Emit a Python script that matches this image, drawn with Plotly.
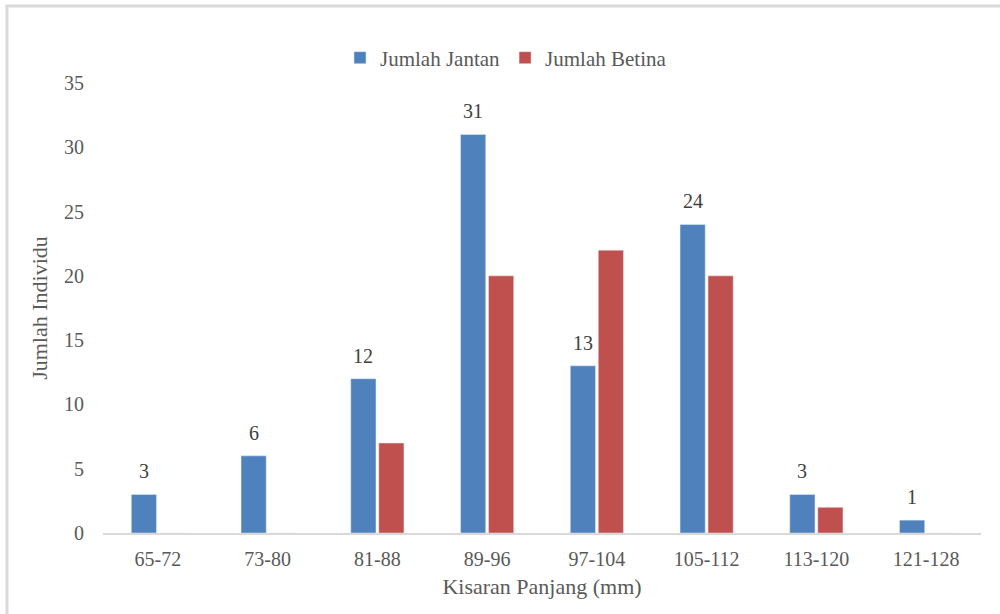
import plotly.graph_objects as go

categories = ["65-72", "73-80", "81-88", "89-96", "97-104", "105-112", "113-120", "121-128"]
jantan = [3, 6, 12, 31, 13, 24, 3, 1]
betina = [0, 0, 7, 20, 22, 20, 2, 0]

FONT = "Liberation Serif, Times New Roman, serif"
GREY = "#595959"

fig = go.Figure()
fig.add_trace(go.Bar(
    x=categories, y=jantan, name="Jumlah Jantan",
    marker=dict(color="#4F81BD"),
))
fig.add_trace(go.Bar(
    x=categories, y=betina, name="Jumlah Betina",
    marker=dict(color="#C0504D"),
))

# data labels above the blue (Jantan) bars
for c, v in zip(categories, jantan):
    fig.add_annotation(x=c, y=v, text=str(v), showarrow=False,
                       xshift=-14, yshift=10, yanchor="bottom",
                       font=dict(family=FONT, size=20, color="#404040"))

L, R, T, B = 103, 19, 83, 81
W, H = 1000, 614
pw, ph = W - L - R, H - T - B

def px_x(p):
    return (p - L) / pw

def px_y(p):
    return (H - B - p) / ph

fig.update_layout(
    width=W, height=H,
    margin=dict(l=L, r=R, t=T, b=B),
    paper_bgcolor="white", plot_bgcolor="white",
    barmode="group", bargap=0.49, bargroupgap=0.1,
    font=dict(family=FONT, size=20, color=GREY),
    legend=dict(orientation="h", x=px_x(506), xanchor="center", y=px_y(58), yanchor="middle",
                font=dict(family=FONT, size=21, color=GREY), traceorder="normal",
                itemwidth=30),
    xaxis=dict(
        showline=True, linecolor="#d9d9d9", linewidth=2, ticks="",
        tickfont=dict(family=FONT, size=20, color=GREY),
        ticklabelstandoff=7,
        title=dict(text="Kisaran Panjang (mm)", font=dict(family=FONT, size=22, color=GREY), standoff=10),
        showgrid=False,
    ),
    yaxis=dict(
        range=[0, 35], dtick=5, showgrid=False, zeroline=False, showline=False,
        tickfont=dict(family=FONT, size=20, color=GREY),
        ticklabelstandoff=18,
        title=dict(text="Jumlah Individu", font=dict(family=FONT, size=22, color=GREY), standoff=10),
    ),
    shapes=[dict(type="rect", xref="paper", yref="paper",
                 x0=px_x(7), x1=px_x(1010), y0=px_y(620), y1=px_y(6),
                 line=dict(color="#d9d9d9", width=3), layer="below")],
)

fig.write_html("out.html")
